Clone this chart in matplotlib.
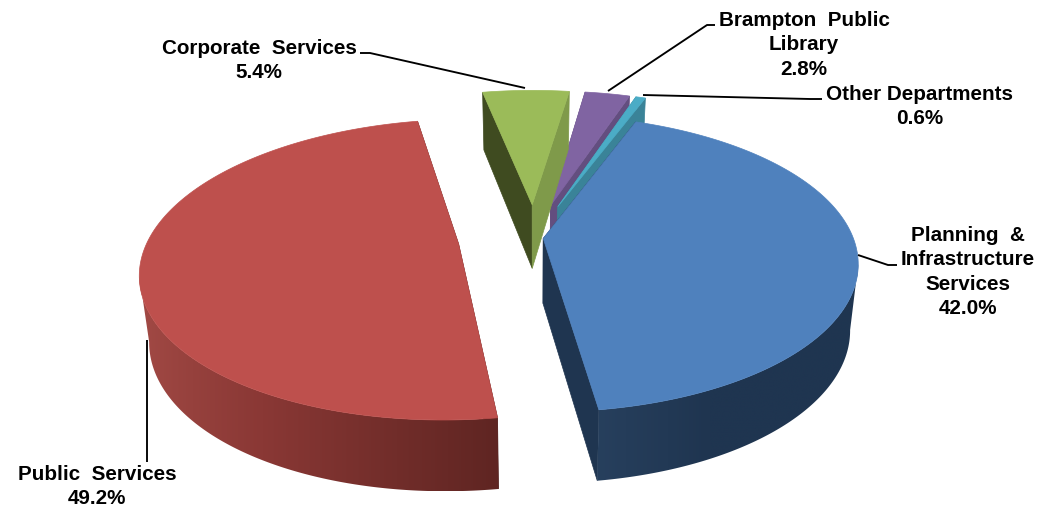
import numpy as np
import matplotlib
matplotlib.use("Agg")
import matplotlib.pyplot as plt
from matplotlib.colors import to_rgb
from matplotlib.patches import Polygon

# Budget share by department, clockwise
departments = ["Planning  &\nInfrastructure\nServices", "Public  Services", "Corporate  Services",
               "Brampton  Public\nLibrary", "Other Departments"]
shares = [42.0, 49.2, 5.4, 2.8, 0.6]

# Slice styling
explode = [0.03, 0.245, 0.24, 0.24, 0.24]
top_colors = ["#4F81BD", "#BE504D", "#9BBB59", "#8064A2", "#4BACC6"]
start_walls = ["#1F3550", "#4A1C1A", "#3F4B20", "#634E7F", "#3A8398"]
end_walls = ["#1F3550", "#4A1C1A", "#7F9A4A", "#634E7F", "#3A8398"]
rim_stops = [[0.1, 0.45, 1.0], [-1.0, -0.5, 0.15], [-1, 0, 1], [-1, 0, 1], [-1, 0, 1]]
rim_colors = [["#28415F", "#1F3550", "#1F3550"],
              ["#A54C47", "#8A3835", "#5F2522"],
              ["#7F9A4A"] * 3, ["#634E7F"] * 3, ["#3A8398"] * 3]
draw_order = [3, 4, 2, 1, 0]

# Label placement: centre x, first baseline y
label_pos = [(968, 241), (97, 480), (259, 54), (804, 26), (920, 100)]
leaders = [[(858, 255), (888, 265), (897, 265)],
           [(147, 340), (147, 462)],
           [(360, 53), (370, 53), (525, 88)],
           [(715, 25), (707, 25), (608, 91)],
           [(822, 99), (810, 99), (643, 95)]]

# Camera for the tilted pie
cx, cy = 534, 238
fx, fy = 310, 144
persp = 0.169
first_angle = 20.5
line_h = 24.4


def project(X, Y, Z=0.0):
    # disc coordinates to pixels; Z=1 is the underside of the pie
    X, Y = np.atleast_1d(X), np.atleast_1d(Y)
    w = 1 + persp * Y
    px = cx + fx * X / w * (1 - 0.025 * Z)
    py = cy - fy * Y / w + Z * (65 - 6 * Y)
    return np.column_stack([px, py])


plt.rcParams["font.family"] = ["Liberation Sans", "DejaVu Sans"]
fig = plt.figure(figsize=(10.51, 5.08), dpi=100)
ax = fig.add_axes([0, 0, 1, 1])

bounds = first_angle + np.concatenate([[0], np.cumsum(shares)]) * 3.6

z = 1
for i in draw_order:
    a0, a1 = bounds[i], bounds[i + 1]
    mid = np.radians((a0 + a1) / 2)
    ox, oy = explode[i] * np.sin(mid), explode[i] * np.cos(mid)
    phi = np.radians(np.linspace(a0, a1, max(int(a1 - a0) * 2, 4)))
    X = ox + np.sin(phi)
    Y = oy + np.cos(phi)
    up = project(X, Y, 0)
    low = project(X, Y, 1)

    # straight cut faces
    apex_t = project(ox, oy, 0)[0]
    apex_b = project(ox, oy, 1)[0]
    ax.fill(*zip(up[0], apex_t, apex_b, low[0]), color=start_walls[i], lw=0.5, zorder=z)
    ax.fill(*zip(up[-1], apex_t, apex_b, low[-1]), color=end_walls[i], lw=0.5, zorder=z)

    # outer wall from the silhouette point round the near side, with a left-right gradient
    widest = np.argmax(np.abs(up[:, 0] - cx))
    front = np.cos(phi) <= np.cos(phi[widest])
    if np.cos(phi).min() < 0 and front.sum() > 1:
        edge = np.vstack([up[front], low[front][::-1]])
        order = np.argsort(up[front][:, 0])
        cols = np.arange(np.floor(edge[:, 0].min()), np.ceil(edge[:, 0].max()) + 1)
        sn = np.interp(cols, up[front][order, 0], np.sin(phi[front])[order])
        rgb = np.array([to_rgb(c) for c in rim_colors[i]])
        strip = np.column_stack([np.interp(sn, rim_stops[i], rgb[:, k]) for k in range(3)])
        im = ax.imshow(strip[None, :, :], extent=[cols[0], cols[-1], edge[:, 1].max(), edge[:, 1].min()],
                       aspect="auto", interpolation="bilinear", zorder=z + 0.5)
        clip = Polygon(edge, closed=True, transform=ax.transData, fc="none", ec="none")
        ax.add_patch(clip)
        im.set_clip_path(clip)

    # top face
    outline = np.vstack([apex_t, up])
    ax.fill(outline[:, 0], outline[:, 1], color=top_colors[i], lw=0.5, zorder=z + 0.8)
    z += 1

for pts in leaders:
    xs, ys = zip(*pts)
    ax.plot(xs, ys, color="black", lw=1.35, solid_capstyle="butt", zorder=20)

for name, share, (lx, ly) in zip(departments, shares, label_pos):
    for n, line in enumerate(name.split("\n") + [f"{share:.1f}%"]):
        ax.text(lx, ly + n * line_h, line, ha="center", va="baseline", fontsize=14.85,
                fontweight="bold", color="black", zorder=21)

ax.set_xlim(0, 1051)
ax.set_ylim(508, 0)
ax.axis("off")
fig.savefig("out.png", dpi=100)
